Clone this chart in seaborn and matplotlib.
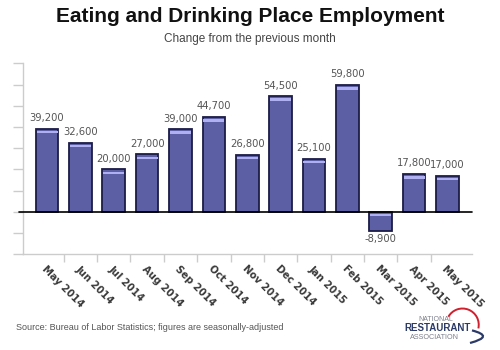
import matplotlib
matplotlib.use("Agg")
import matplotlib.pyplot as plt
import matplotlib.patches as mpatches
from matplotlib.path import Path
import seaborn as sns
import pandas as pd

months = ["May 2014", "Jun 2014", "Jul 2014", "Aug 2014", "Sep 2014", "Oct 2014",
          "Nov 2014", "Dec 2014", "Jan 2015", "Feb 2015", "Mar 2015", "Apr 2015", "May 2015"]
values = [39200, 32600, 20000, 27000, 39000, 44700, 26800, 54500, 25100, 59800, -8900, 17800, 17000]
value_labels = ["39,200", "32,600", "20,000", "27,000", "39,000", "44,700", "26,800",
                "54,500", "25,100", "59,800", "-8,900", "17,800", "17,000"]

sns.set_theme(style="white")
plt.rcParams['font.family'] = ['DejaVu Sans']

df = pd.DataFrame({"month": months, "value": values})

fig = plt.figure(figsize=(5, 3.5), dpi=100)
ax = fig.add_axes([0.046, 0.274, 0.897, 0.545])

sns.barplot(data=df, x="month", y="value", ax=ax, color="#5c5fa3",
            edgecolor="#1c1c48", linewidth=1.3, width=0.68, saturation=1)

ax.set_ylim(-20000, 70000)
ax.set_xlim(-0.72, 12.72)
ax.set_yticks(range(-20000, 70001, 10000))
ax.set_yticklabels([])
ax.set_xlabel("")
ax.set_ylabel("")

# highlight strip near top of each bar
ylim = ax.get_ylim()
strip = (ylim[1] - ylim[0]) * 0.012
gap = (ylim[1] - ylim[0]) * 0.012
for p, v in zip(list(ax.patches)[:len(values)], values):
    x0 = p.get_x() + 0.025
    w = p.get_width() - 0.05
    if v >= 0:
        y0 = v - gap - strip
    else:
        y0 = -gap - strip
    ax.add_patch(mpatches.Rectangle((x0, y0), w, strip, facecolor="#aeb0f2",
                                    edgecolor="none", zorder=5))

# value labels
for i, (v, lab) in enumerate(zip(values, value_labels)):
    if v >= 0:
        ax.text(i, v + 2600, lab, ha="center", va="bottom", fontsize=7.2, color="#555555")
    else:
        ax.text(i, v - 1800, lab, ha="center", va="top", fontsize=7.2, color="#555555")

ax.axhline(0, color="black", linewidth=1.2, zorder=6, xmin=-0.01, clip_on=False)

for s in ["top", "right"]:
    ax.spines[s].set_visible(False)
ax.spines["left"].set_color("#cccccc")
ax.spines["bottom"].set_color("#cccccc")
ax.spines["left"].set_linewidth(1)
ax.spines["bottom"].set_linewidth(1)

ax.tick_params(axis="y", direction="out", length=7, color="#cccccc", width=1, left=True)
ax.set_xticks(range(len(months)))
ax.set_xticklabels(months, rotation=-45, ha="left", va="top", rotation_mode="anchor",
                   fontsize=7.2, color="#3a3a3a", fontweight="bold")
ax.tick_params(axis="x", length=0, pad=7)
ax.set_xticks([i + 0.5 for i in range(len(months) - 1)], minor=True)
ax.tick_params(axis="x", which="minor", direction="out", length=6, color="#cccccc", width=1, bottom=True)

fig.text(0.5, 0.952, "Eating and Drinking Place Employment", ha="center", va="center",
         fontsize=15, fontweight="bold", color="#111111", family="Liberation Sans")
fig.text(0.5, 0.889, "Change from the previous month", ha="center", va="center",
         fontsize=8.5, color="#444444", family="Liberation Sans")
fig.text(0.031, 0.063, "Source: Bureau of Labor Statistics; figures are seasonally-adjusted",
         ha="left", va="center", fontsize=6.5, color="#555555", family="Liberation Sans")

# logo
fig.text(0.872, 0.088, "NATIONAL", ha="center", va="center", fontsize=5, color="#7a7f8c",
         family="Liberation Sans")
fig.text(0.875, 0.062, "RESTAURANT", ha="center", va="center", fontsize=7, color="#2b3a67",
         fontweight="bold", family="Liberation Sans")
fig.text(0.868, 0.035, "ASSOCIATION", ha="center", va="center", fontsize=5.2, color="#7a7f8c",
         family="Liberation Sans")
arc1 = mpatches.Arc((0.925, 0.072), 0.065, 0.093, theta1=-18, theta2=141,
                    transform=fig.transFigure, color="#d0202e", linewidth=1.4)
swoosh = mpatches.PathPatch(Path([(0.944, 0.056), (0.99, 0.039), (0.94, 0.02)],
                                 [Path.MOVETO, Path.CURVE3, Path.CURVE3]),
                            transform=fig.transFigure, facecolor="none",
                            edgecolor="#2b3a67", linewidth=1.6)
fig.patches.extend([arc1, swoosh])

fig.savefig("out.png", dpi=100)
